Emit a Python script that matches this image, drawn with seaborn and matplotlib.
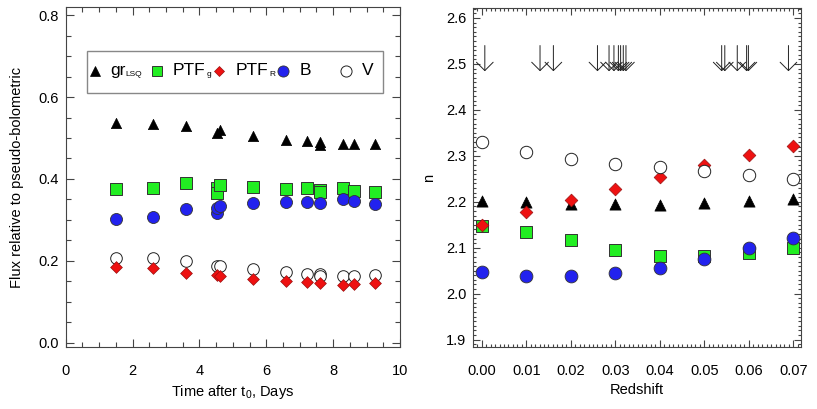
import numpy as np
import pandas as pd
import matplotlib
matplotlib.use("Agg")
import matplotlib.pyplot as plt
import seaborn as sns
from matplotlib.ticker import MultipleLocator, FormatStrFormatter
from matplotlib.patches import Rectangle

# ---------------- data: left panel (time after t0, days) ----------------
tri_t = [1.51, 2.60, 3.60, 4.52, 4.62, 5.61, 6.59, 7.21, 7.61, 7.61, 8.30, 8.62, 9.26]
tri_f = [0.537, 0.535, 0.529, 0.513, 0.520, 0.505, 0.496, 0.492, 0.490, 0.482, 0.485, 0.485, 0.485]

sq_t = [1.51, 2.60, 3.60, 4.52, 4.52, 4.62, 5.61, 6.59, 7.21, 7.61, 7.61, 8.30, 8.62, 9.26]
sq_f = [0.375, 0.378, 0.389, 0.378, 0.366, 0.386, 0.381, 0.375, 0.377, 0.374, 0.367, 0.379, 0.371, 0.369]

b_t = [1.51, 2.60, 3.60, 4.52, 4.52, 4.62, 5.61, 6.59, 7.21, 7.61, 8.30, 8.62, 9.26]
b_f = [0.302, 0.308, 0.326, 0.316, 0.330, 0.335, 0.341, 0.343, 0.344, 0.342, 0.352, 0.345, 0.338]

v_t = [1.51, 2.60, 3.60, 4.52, 4.62, 5.61, 6.59, 7.21, 7.61, 7.61, 8.30, 8.62, 9.26]
v_f = [0.208, 0.206, 0.200, 0.187, 0.188, 0.180, 0.172, 0.169, 0.169, 0.163, 0.163, 0.164, 0.166]

r_t = [1.51, 2.60, 3.60, 4.52, 4.62, 5.61, 6.59, 7.21, 7.61, 8.30, 8.62, 9.26]
r_f = [0.186, 0.182, 0.171, 0.165, 0.164, 0.156, 0.151, 0.148, 0.146, 0.140, 0.143, 0.145]

# ---------------- data: right panel (redshift vs n) ----------------
z = [0.00, 0.01, 0.02, 0.03, 0.04, 0.05, 0.06, 0.07]
n_gr = [2.201, 2.200, 2.196, 2.195, 2.194, 2.198, 2.201, 2.205]
n_ptfg = [2.148, 2.135, 2.116, 2.094, 2.082, 2.082, 2.088, 2.100]
n_ptfr = [2.149, 2.177, 2.203, 2.228, 2.254, 2.279, 2.302, 2.321]
n_b = [2.047, 2.039, 2.039, 2.044, 2.056, 2.076, 2.100, 2.121]
n_v = [2.330, 2.308, 2.293, 2.282, 2.275, 2.268, 2.259, 2.249]

# redshifts of the objects marked with arrows
arrow_z = [0.0007, 0.0131, 0.0161, 0.0260, 0.0286, 0.0297, 0.0307, 0.0312,
           0.0318, 0.0324, 0.0539, 0.0546, 0.0574, 0.0595, 0.0599, 0.0689]
arrow_top = 2.54
arrow_tip = 2.484

legend_labels = ["gr", "PTF", "PTF", "B", "V"]
legend_subs = ["LSQ", "g", "R", "", ""]

# ---------------- style ----------------
sns.set_style("white")
plt.rcParams["font.family"] = ["Liberation Sans", "DejaVu Sans"]
plt.rcParams["mathtext.fontset"] = "custom"
plt.rcParams["mathtext.rm"] = "Liberation Sans"
plt.rcParams["mathtext.it"] = "Liberation Sans:italic"
plt.rcParams["text.color"] = "black"
plt.rcParams["axes.labelcolor"] = "black"
plt.rcParams["xtick.labelcolor"] = "black"
plt.rcParams["ytick.labelcolor"] = "black"

GREEN = "#22ee22"
BLUE = "#2222ee"
RED = "#ee1111"
EDGE = "#333333"

fig = plt.figure(figsize=(8.17, 4.09), dpi=100)
axL = fig.add_axes([0.0804, 0.1516, 0.4092, 0.8313])
axR = fig.add_axes([0.5793, 0.1516, 0.4007, 0.8281])

def style_axes(ax, xmaj, xmin, ymaj, ymin, majlen, minlen):
    ax.xaxis.set_major_locator(MultipleLocator(xmaj))
    ax.xaxis.set_minor_locator(MultipleLocator(xmin))
    ax.yaxis.set_major_locator(MultipleLocator(ymaj))
    ax.yaxis.set_minor_locator(MultipleLocator(ymin))
    ax.tick_params(which="both", direction="in", top=True, right=True,
                   bottom=True, left=True, color="#444444", width=0.8)
    ax.tick_params(which="major", length=majlen)
    ax.tick_params(which="minor", length=minlen)
    ax.tick_params(axis="x", which="major", pad=12, labelsize=10.5)
    ax.tick_params(axis="y", which="major", pad=5, labelsize=10.5)
    for sp in ax.spines.values():
        sp.set_color("#444444")
        sp.set_linewidth(0.8)
        sp.set_visible(True)
    ax.grid(False)

# ---------------- left panel ----------------
kw = dict(ax=axL, legend=False, zorder=3)
sns.scatterplot(x=tri_t, y=tri_f, marker="^", s=55, color="black", edgecolor="black", linewidth=0.5, **kw)
sns.scatterplot(x=sq_t, y=sq_f, marker="s", s=70, color=GREEN, edgecolor=EDGE, linewidth=0.7, **kw)
sns.scatterplot(x=b_t, y=b_f, marker="o", s=75, color=BLUE, edgecolor=EDGE, linewidth=0.6, **kw)
sns.scatterplot(x=v_t, y=v_f, marker="o", s=70, color="white", edgecolor="#222222", linewidth=0.7, **kw)
sns.scatterplot(x=r_t, y=r_f, marker="D", s=36, color=RED, edgecolor="#991111", linewidth=0.5, **kw)

axL.set_xlim(0, 10)
axL.set_ylim(-0.0105, 0.82)
style_axes(axL, 2, 0.5, 0.2, 0.05, 6, 3.5)
axL.yaxis.set_major_formatter(FormatStrFormatter("%.1f"))
axL.set_xlabel(r"Time after t$_{\mathregular{0}}$, Days", fontsize=10.5)
axL.set_ylabel("Flux relative to pseudo-bolometric", fontsize=10.5)
axL.xaxis.set_label_coords(0.5, -0.105)
axL.yaxis.set_label_coords(-0.125, 0.5)

# legend box drawn in axes coordinates
axL.add_patch(Rectangle((0.0628, 0.748), 0.887, 0.1235, transform=axL.transAxes,
                        facecolor="white", edgecolor="#888888", linewidth=1.0, zorder=4))
leg_y = 0.8126
mk_x = [0.0876, 0.272, 0.4586, 0.649, 0.8376]
tx_x = [0.1325, 0.321, 0.509, 0.701, 0.885]
mk_style = [dict(marker="^", ms=7, mfc="black", mec="black", mew=0.5),
            dict(marker="s", ms=7.5, mfc=GREEN, mec=EDGE, mew=0.7),
            dict(marker="D", ms=5, mfc=RED, mec="#991111", mew=0.5),
            dict(marker="o", ms=8, mfc=BLUE, mec=EDGE, mew=0.6),
            dict(marker="o", ms=8, mfc="white", mec="#222222", mew=0.7)]
for mx, tx, st, lab, sub in zip(mk_x, tx_x, mk_style, legend_labels, legend_subs):
    axL.plot([mx], [leg_y], transform=axL.transAxes, ls="none", zorder=5, **st)
    t = axL.text(tx, leg_y, lab, transform=axL.transAxes, fontsize=12.5,
                 va="center", ha="left", zorder=5)
    if sub:
        axL.annotate(sub, xy=(1.02, 0.02), xycoords=t, fontsize=6,
                     va="bottom", ha="left", zorder=5)

# ---------------- right panel ----------------
kw = dict(ax=axR, legend=False, zorder=3)
sns.scatterplot(x=z, y=n_gr, marker="^", s=65, color="black", edgecolor="black", linewidth=0.5, **kw)
sns.scatterplot(x=z, y=n_ptfg, marker="s", s=80, color=GREEN, edgecolor=EDGE, linewidth=0.7, **kw)
sns.scatterplot(x=z, y=n_ptfr, marker="D", s=42, color=RED, edgecolor="#991111", linewidth=0.5, **kw)
sns.scatterplot(x=z, y=n_b, marker="o", s=85, color=BLUE, edgecolor=EDGE, linewidth=0.6, **kw)
sns.scatterplot(x=z, y=n_v, marker="o", s=80, color="white", edgecolor="#222222", linewidth=0.7, **kw)

for az in arrow_z:
    axR.annotate("", xy=(az, arrow_tip), xytext=(az, arrow_top),
                 arrowprops=dict(arrowstyle="->,head_length=0.6,head_width=0.6",
                                 mutation_scale=10,
                                 color="#222222", lw=0.7, shrinkA=0, shrinkB=0))

axR.set_xlim(-0.00189, 0.07164)
axR.set_ylim(1.884, 2.621)
style_axes(axR, 0.01, 0.001, 0.1, 0.01, 5, 2.5)
axR.xaxis.set_major_formatter(FormatStrFormatter("%.2f"))
axR.yaxis.set_major_formatter(FormatStrFormatter("%.1f"))
axR.set_xlabel("Redshift", fontsize=10.5)
axR.set_ylabel("n", fontsize=10.5)
axR.xaxis.set_label_coords(0.5, -0.105)
axR.yaxis.set_label_coords(-0.114, 0.5)

fig.savefig("out.png", dpi=100)
